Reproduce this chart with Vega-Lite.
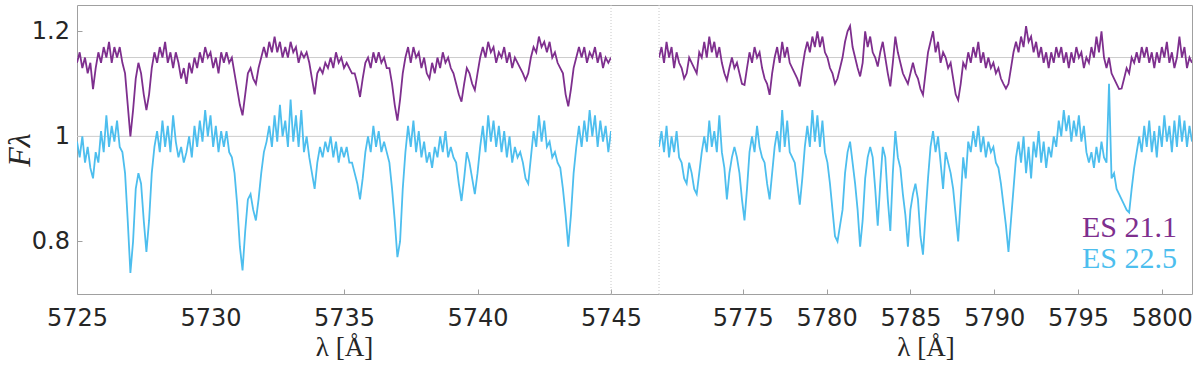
{
  "$schema": "https://vega.github.io/schema/vega-lite/v6.json",
  "background": "white",
  "padding": {"left": 3, "top": 4, "right": 5, "bottom": 2},
  "spacing": 0,
  "bounds": "flush",
  "config": {
    "view": {"stroke": null},
    "axis": {
      "domainColor": "#a0a0a0",
      "tickColor": "#a0a0a0",
      "labelColor": "#262626",
      "labelFont": "DejaVu Sans",
      "labelFontSize": 24,
      "labelFlush": false,
      "titleFont": "Liberation Serif",
      "titleFontSize": 27,
      "titleFontWeight": "normal",
      "titleColor": "#262626",
      "grid": false,
      "tickSize": -5,
      "domainWidth": 1
    }
  },
  "datasets": {
    "L": [
      {"w":5725.0,"a":1.14,"b":0.99},{"w":5725.1,"a":1.16,"b":0.96},{"w":5725.2,"a":1.13,"b":1.00},{"w":5725.3,"a":1.15,"b":0.95},{"w":5725.4,"a":1.12,"b":0.98},
      {"w":5725.5,"a":1.14,"b":0.94},{"w":5725.6,"a":1.09,"b":0.92},{"w":5725.7,"a":1.13,"b":0.97},{"w":5725.8,"a":1.16,"b":0.95},{"w":5725.9,"a":1.14,"b":1.01},
      {"w":5726.0,"a":1.17,"b":0.97},{"w":5726.1,"a":1.15,"b":1.04},{"w":5726.2,"a":1.18,"b":0.98},{"w":5726.3,"a":1.14,"b":1.02},{"w":5726.4,"a":1.17,"b":0.99},
      {"w":5726.5,"a":1.15,"b":1.03},{"w":5726.6,"a":1.17,"b":0.98},{"w":5726.7,"a":1.14,"b":0.97},{"w":5726.8,"a":1.12,"b":0.93},{"w":5726.9,"a":1.06,"b":0.84},
      {"w":5727.0,"a":1.00,"b":0.74},{"w":5727.1,"a":1.05,"b":0.80},{"w":5727.2,"a":1.11,"b":0.90},{"w":5727.3,"a":1.14,"b":0.93},{"w":5727.4,"a":1.12,"b":0.91},
      {"w":5727.5,"a":1.08,"b":0.84},{"w":5727.6,"a":1.05,"b":0.78},{"w":5727.7,"a":1.08,"b":0.84},{"w":5727.8,"a":1.13,"b":0.93},{"w":5727.9,"a":1.16,"b":0.98},
      {"w":5728.0,"a":1.14,"b":1.01},{"w":5728.1,"a":1.17,"b":0.97},{"w":5728.2,"a":1.15,"b":1.03},{"w":5728.3,"a":1.18,"b":0.98},{"w":5728.4,"a":1.14,"b":1.02},
      {"w":5728.5,"a":1.16,"b":0.97},{"w":5728.6,"a":1.13,"b":1.04},{"w":5728.7,"a":1.16,"b":0.99},{"w":5728.8,"a":1.14,"b":0.96},{"w":5728.9,"a":1.11,"b":0.98},
      {"w":5729.0,"a":1.13,"b":0.95},{"w":5729.1,"a":1.10,"b":0.97},{"w":5729.2,"a":1.14,"b":1.00},{"w":5729.3,"a":1.12,"b":0.96},{"w":5729.4,"a":1.15,"b":1.02},
      {"w":5729.5,"a":1.13,"b":0.98},{"w":5729.6,"a":1.16,"b":1.03},{"w":5729.7,"a":1.14,"b":0.99},{"w":5729.8,"a":1.17,"b":1.05},{"w":5729.9,"a":1.15,"b":1.00},
      {"w":5730.0,"a":1.16,"b":1.04},{"w":5730.1,"a":1.13,"b":0.98},{"w":5730.2,"a":1.15,"b":1.02},{"w":5730.3,"a":1.12,"b":0.97},{"w":5730.4,"a":1.16,"b":1.01},
      {"w":5730.5,"a":1.14,"b":0.98},{"w":5730.6,"a":1.16,"b":1.01},{"w":5730.7,"a":1.14,"b":0.97},{"w":5730.8,"a":1.15,"b":0.96},{"w":5730.9,"a":1.12,"b":0.93},
      {"w":5731.0,"a":1.09,"b":0.87},{"w":5731.1,"a":1.06,"b":0.79},{"w":5731.2,"a":1.04,"b":0.745},{"w":5731.3,"a":1.08,"b":0.82},{"w":5731.4,"a":1.12,"b":0.88},
      {"w":5731.5,"a":1.13,"b":0.89},{"w":5731.6,"a":1.11,"b":0.86},{"w":5731.7,"a":1.10,"b":0.84},{"w":5731.8,"a":1.13,"b":0.88},{"w":5731.9,"a":1.15,"b":0.93},
      {"w":5732.0,"a":1.17,"b":0.97},{"w":5732.1,"a":1.15,"b":0.99},{"w":5732.2,"a":1.18,"b":1.02},{"w":5732.3,"a":1.16,"b":0.98},{"w":5732.4,"a":1.19,"b":1.04},
      {"w":5732.5,"a":1.16,"b":0.99},{"w":5732.6,"a":1.18,"b":1.06},{"w":5732.7,"a":1.15,"b":1.00},{"w":5732.8,"a":1.17,"b":1.03},{"w":5732.9,"a":1.15,"b":0.98},
      {"w":5733.0,"a":1.18,"b":1.07},{"w":5733.1,"a":1.16,"b":0.99},{"w":5733.2,"a":1.17,"b":1.04},{"w":5733.3,"a":1.14,"b":0.98},{"w":5733.4,"a":1.16,"b":1.05},
      {"w":5733.5,"a":1.15,"b":0.97},{"w":5733.6,"a":1.16,"b":1.00},{"w":5733.7,"a":1.14,"b":0.96},{"w":5733.8,"a":1.11,"b":0.93},{"w":5733.9,"a":1.08,"b":0.90},
      {"w":5734.0,"a":1.12,"b":0.95},{"w":5734.1,"a":1.13,"b":0.98},{"w":5734.2,"a":1.12,"b":0.96},{"w":5734.3,"a":1.14,"b":0.99},{"w":5734.4,"a":1.13,"b":0.97},
      {"w":5734.5,"a":1.15,"b":1.00},{"w":5734.6,"a":1.13,"b":0.96},{"w":5734.7,"a":1.16,"b":0.99},{"w":5734.8,"a":1.14,"b":0.95},{"w":5734.9,"a":1.15,"b":0.98},
      {"w":5735.0,"a":1.13,"b":0.96},{"w":5735.1,"a":1.14,"b":0.98},{"w":5735.2,"a":1.13,"b":0.95},{"w":5735.3,"a":1.12,"b":0.95},{"w":5735.4,"a":1.12,"b":0.93},
      {"w":5735.5,"a":1.10,"b":0.91},{"w":5735.6,"a":1.075,"b":0.88},{"w":5735.7,"a":1.11,"b":0.92},{"w":5735.8,"a":1.14,"b":0.97},{"w":5735.9,"a":1.15,"b":1.00},
      {"w":5736.0,"a":1.13,"b":0.97},{"w":5736.1,"a":1.16,"b":1.02},{"w":5736.2,"a":1.14,"b":0.98},{"w":5736.3,"a":1.16,"b":1.01},{"w":5736.4,"a":1.14,"b":0.97},
      {"w":5736.5,"a":1.15,"b":0.99},{"w":5736.6,"a":1.13,"b":0.97},{"w":5736.7,"a":1.13,"b":0.95},{"w":5736.8,"a":1.10,"b":0.90},{"w":5736.9,"a":1.06,"b":0.84},
      {"w":5737.0,"a":1.03,"b":0.77},{"w":5737.1,"a":1.07,"b":0.80},{"w":5737.2,"a":1.12,"b":0.90},{"w":5737.3,"a":1.15,"b":0.97},{"w":5737.4,"a":1.17,"b":1.02},
      {"w":5737.5,"a":1.14,"b":0.98},{"w":5737.6,"a":1.17,"b":1.03},{"w":5737.7,"a":1.15,"b":0.97},{"w":5737.8,"a":1.16,"b":1.01},{"w":5737.9,"a":1.13,"b":0.96},
      {"w":5738.0,"a":1.15,"b":0.99},{"w":5738.1,"a":1.12,"b":0.95},{"w":5738.2,"a":1.11,"b":0.97},{"w":5738.3,"a":1.14,"b":0.94},{"w":5738.4,"a":1.12,"b":0.98},
      {"w":5738.5,"a":1.15,"b":0.96},{"w":5738.6,"a":1.13,"b":1.00},{"w":5738.7,"a":1.16,"b":0.97},{"w":5738.8,"a":1.14,"b":1.01},{"w":5738.9,"a":1.15,"b":0.96},
      {"w":5739.0,"a":1.13,"b":0.98},{"w":5739.1,"a":1.12,"b":0.96},{"w":5739.2,"a":1.10,"b":0.95},{"w":5739.3,"a":1.08,"b":0.91},{"w":5739.4,"a":1.066,"b":0.877},
      {"w":5739.5,"a":1.10,"b":0.92},{"w":5739.6,"a":1.13,"b":0.97},{"w":5739.7,"a":1.12,"b":0.95},{"w":5739.8,"a":1.10,"b":0.92},{"w":5739.9,"a":1.088,"b":0.89},
      {"w":5740.0,"a":1.12,"b":0.93},{"w":5740.1,"a":1.15,"b":0.98},{"w":5740.2,"a":1.17,"b":1.02},{"w":5740.3,"a":1.15,"b":0.97},{"w":5740.4,"a":1.18,"b":1.04},
      {"w":5740.5,"a":1.16,"b":0.99},{"w":5740.6,"a":1.17,"b":1.03},{"w":5740.7,"a":1.14,"b":0.98},{"w":5740.8,"a":1.16,"b":1.02},{"w":5740.9,"a":1.15,"b":0.97},
      {"w":5741.0,"a":1.17,"b":1.01},{"w":5741.1,"a":1.14,"b":0.96},{"w":5741.2,"a":1.16,"b":1.00},{"w":5741.3,"a":1.13,"b":0.95},{"w":5741.4,"a":1.15,"b":0.98},
      {"w":5741.5,"a":1.14,"b":0.96},{"w":5741.6,"a":1.13,"b":0.97},{"w":5741.7,"a":1.12,"b":0.95},{"w":5741.8,"a":1.107,"b":0.92},{"w":5741.9,"a":1.12,"b":0.91},
      {"w":5742.0,"a":1.15,"b":0.96},{"w":5742.1,"a":1.17,"b":1.01},{"w":5742.2,"a":1.16,"b":0.98},{"w":5742.3,"a":1.19,"b":1.04},{"w":5742.4,"a":1.17,"b":0.99},
      {"w":5742.5,"a":1.18,"b":1.03},{"w":5742.6,"a":1.16,"b":0.98},{"w":5742.7,"a":1.18,"b":0.99},{"w":5742.8,"a":1.15,"b":0.96},{"w":5742.9,"a":1.16,"b":0.97},
      {"w":5743.0,"a":1.14,"b":0.95},{"w":5743.1,"a":1.13,"b":0.94},{"w":5743.2,"a":1.12,"b":0.90},{"w":5743.3,"a":1.08,"b":0.85},{"w":5743.4,"a":1.057,"b":0.79},
      {"w":5743.5,"a":1.09,"b":0.85},{"w":5743.6,"a":1.13,"b":0.93},{"w":5743.7,"a":1.15,"b":0.98},{"w":5743.8,"a":1.17,"b":1.02},{"w":5743.9,"a":1.15,"b":0.98},
      {"w":5744.0,"a":1.17,"b":1.03},{"w":5744.1,"a":1.14,"b":0.99},{"w":5744.2,"a":1.16,"b":1.05},{"w":5744.3,"a":1.15,"b":1.00},{"w":5744.4,"a":1.17,"b":1.04},
      {"w":5744.5,"a":1.14,"b":0.98},{"w":5744.6,"a":1.16,"b":1.03},{"w":5744.7,"a":1.13,"b":0.99},{"w":5744.8,"a":1.15,"b":1.02},{"w":5744.9,"a":1.14,"b":0.97},
      {"w":5745.0,"a":1.15,"b":1.01}
    ],
    "R": [
      {"w":5770.00,"a":1.15,"b":0.98},{"w":5770.15,"a":1.17,"b":1.01},{"w":5770.30,"a":1.14,"b":0.97},{"w":5770.45,"a":1.18,"b":1.02},{"w":5770.60,"a":1.15,"b":0.96},
      {"w":5770.75,"a":1.17,"b":1.00},{"w":5770.90,"a":1.13,"b":0.97},{"w":5771.05,"a":1.16,"b":1.01},{"w":5771.20,"a":1.14,"b":0.96},{"w":5771.35,"a":1.13,"b":0.95},
      {"w":5771.50,"a":1.11,"b":0.92},{"w":5771.65,"a":1.12,"b":0.91},{"w":5771.80,"a":1.15,"b":0.95},{"w":5771.95,"a":1.14,"b":0.93},{"w":5772.10,"a":1.13,"b":0.90},
      {"w":5772.25,"a":1.12,"b":0.89},{"w":5772.40,"a":1.16,"b":0.93},{"w":5772.55,"a":1.15,"b":0.97},{"w":5772.70,"a":1.18,"b":1.00},{"w":5772.85,"a":1.15,"b":0.97},
      {"w":5773.00,"a":1.19,"b":1.03},{"w":5773.15,"a":1.16,"b":0.98},{"w":5773.30,"a":1.18,"b":1.01},{"w":5773.45,"a":1.15,"b":0.97},{"w":5773.60,"a":1.17,"b":1.04},
      {"w":5773.75,"a":1.14,"b":0.97},{"w":5773.90,"a":1.12,"b":0.94},{"w":5774.05,"a":1.107,"b":0.88},{"w":5774.20,"a":1.13,"b":0.93},{"w":5774.35,"a":1.15,"b":0.96},
      {"w":5774.50,"a":1.13,"b":0.98},{"w":5774.65,"a":1.14,"b":0.96},{"w":5774.80,"a":1.12,"b":0.93},{"w":5774.95,"a":1.10,"b":0.88},{"w":5775.10,"a":1.098,"b":0.84},
      {"w":5775.25,"a":1.13,"b":0.90},{"w":5775.40,"a":1.16,"b":0.97},{"w":5775.55,"a":1.14,"b":1.00},{"w":5775.70,"a":1.17,"b":0.97},{"w":5775.85,"a":1.15,"b":1.02},
      {"w":5776.00,"a":1.16,"b":0.98},{"w":5776.15,"a":1.13,"b":0.96},{"w":5776.30,"a":1.11,"b":0.95},{"w":5776.45,"a":1.10,"b":0.91},{"w":5776.60,"a":1.079,"b":0.88},
      {"w":5776.75,"a":1.12,"b":0.93},{"w":5776.90,"a":1.15,"b":0.98},{"w":5777.05,"a":1.17,"b":1.01},{"w":5777.20,"a":1.14,"b":0.97},{"w":5777.35,"a":1.18,"b":1.05},
      {"w":5777.50,"a":1.15,"b":0.98},{"w":5777.65,"a":1.17,"b":1.03},{"w":5777.80,"a":1.14,"b":0.97},{"w":5777.95,"a":1.13,"b":0.96},{"w":5778.10,"a":1.12,"b":0.95},
      {"w":5778.25,"a":1.11,"b":0.91},{"w":5778.40,"a":1.095,"b":0.87},{"w":5778.55,"a":1.13,"b":0.92},{"w":5778.70,"a":1.16,"b":0.98},{"w":5778.85,"a":1.18,"b":1.02},
      {"w":5779.00,"a":1.16,"b":0.98},{"w":5779.15,"a":1.19,"b":1.05},{"w":5779.30,"a":1.17,"b":0.99},{"w":5779.45,"a":1.20,"b":1.04},{"w":5779.60,"a":1.17,"b":0.98},
      {"w":5779.75,"a":1.19,"b":1.03},{"w":5779.90,"a":1.16,"b":0.97},{"w":5780.05,"a":1.15,"b":0.95},{"w":5780.20,"a":1.13,"b":0.91},{"w":5780.35,"a":1.12,"b":0.86},
      {"w":5780.50,"a":1.10,"b":0.81},{"w":5780.65,"a":1.11,"b":0.80},{"w":5780.80,"a":1.13,"b":0.83},{"w":5780.95,"a":1.15,"b":0.86},{"w":5781.10,"a":1.18,"b":0.93},
      {"w":5781.25,"a":1.20,"b":0.97},{"w":5781.40,"a":1.21,"b":0.99},{"w":5781.55,"a":1.17,"b":0.95},{"w":5781.70,"a":1.15,"b":0.91},{"w":5781.85,"a":1.13,"b":0.86},
      {"w":5782.00,"a":1.114,"b":0.79},{"w":5782.15,"a":1.14,"b":0.84},{"w":5782.30,"a":1.20,"b":0.92},{"w":5782.45,"a":1.17,"b":0.96},{"w":5782.60,"a":1.19,"b":0.98},
      {"w":5782.75,"a":1.16,"b":0.96},{"w":5782.90,"a":1.15,"b":0.90},{"w":5783.05,"a":1.133,"b":0.83},{"w":5783.20,"a":1.16,"b":0.91},{"w":5783.35,"a":1.18,"b":0.98},
      {"w":5783.50,"a":1.15,"b":0.96},{"w":5783.65,"a":1.12,"b":0.88},{"w":5783.80,"a":1.095,"b":0.82},{"w":5783.95,"a":1.14,"b":0.93},{"w":5784.10,"a":1.19,"b":1.01},
      {"w":5784.25,"a":1.16,"b":0.96},{"w":5784.40,"a":1.14,"b":0.94},{"w":5784.55,"a":1.12,"b":0.89},{"w":5784.70,"a":1.11,"b":0.85},{"w":5784.85,"a":1.10,"b":0.79},
      {"w":5785.00,"a":1.12,"b":0.86},{"w":5785.15,"a":1.14,"b":0.89},{"w":5785.30,"a":1.12,"b":0.91},{"w":5785.45,"a":1.11,"b":0.88},{"w":5785.60,"a":1.09,"b":0.81},
      {"w":5785.75,"a":1.079,"b":0.775},{"w":5785.90,"a":1.12,"b":0.85},{"w":5786.05,"a":1.16,"b":0.92},{"w":5786.20,"a":1.18,"b":0.98},{"w":5786.35,"a":1.20,"b":1.01},
      {"w":5786.50,"a":1.16,"b":0.97},{"w":5786.65,"a":1.18,"b":1.00},{"w":5786.80,"a":1.14,"b":0.95},{"w":5786.95,"a":1.16,"b":0.90},{"w":5787.10,"a":1.15,"b":0.97},
      {"w":5787.25,"a":1.13,"b":0.95},{"w":5787.40,"a":1.14,"b":0.93},{"w":5787.55,"a":1.11,"b":0.90},{"w":5787.70,"a":1.08,"b":0.85},{"w":5787.85,"a":1.069,"b":0.80},
      {"w":5788.00,"a":1.10,"b":0.88},{"w":5788.15,"a":1.14,"b":0.96},{"w":5788.30,"a":1.13,"b":0.92},{"w":5788.45,"a":1.16,"b":0.99},{"w":5788.60,"a":1.14,"b":0.97},
      {"w":5788.75,"a":1.17,"b":1.01},{"w":5788.90,"a":1.15,"b":0.98},{"w":5789.05,"a":1.18,"b":1.02},{"w":5789.20,"a":1.14,"b":0.97},{"w":5789.35,"a":1.16,"b":1.00},
      {"w":5789.50,"a":1.13,"b":0.96},{"w":5789.65,"a":1.15,"b":0.99},{"w":5789.80,"a":1.13,"b":0.97},{"w":5789.95,"a":1.14,"b":0.98},{"w":5790.10,"a":1.12,"b":0.95},
      {"w":5790.25,"a":1.13,"b":0.94},{"w":5790.40,"a":1.11,"b":0.91},{"w":5790.55,"a":1.10,"b":0.87},{"w":5790.70,"a":1.091,"b":0.83},{"w":5790.85,"a":1.10,"b":0.78},
      {"w":5791.00,"a":1.13,"b":0.84},{"w":5791.15,"a":1.16,"b":0.90},{"w":5791.30,"a":1.18,"b":0.96},{"w":5791.45,"a":1.16,"b":0.99},{"w":5791.60,"a":1.19,"b":0.95},
      {"w":5791.75,"a":1.17,"b":1.00},{"w":5791.90,"a":1.21,"b":0.93},{"w":5792.05,"a":1.18,"b":0.98},{"w":5792.20,"a":1.19,"b":0.92},{"w":5792.35,"a":1.16,"b":0.99},
      {"w":5792.50,"a":1.18,"b":0.96},{"w":5792.65,"a":1.15,"b":1.01},{"w":5792.80,"a":1.17,"b":0.95},{"w":5792.95,"a":1.14,"b":0.99},{"w":5793.10,"a":1.16,"b":0.94},
      {"w":5793.25,"a":1.13,"b":0.98},{"w":5793.40,"a":1.16,"b":0.96},{"w":5793.55,"a":1.14,"b":1.00},{"w":5793.70,"a":1.17,"b":0.98},{"w":5793.85,"a":1.15,"b":1.03},
      {"w":5794.00,"a":1.17,"b":1.00},{"w":5794.15,"a":1.14,"b":1.05},{"w":5794.30,"a":1.16,"b":1.01},{"w":5794.45,"a":1.13,"b":1.04},{"w":5794.60,"a":1.16,"b":0.99},
      {"w":5794.75,"a":1.14,"b":1.03},{"w":5794.90,"a":1.17,"b":1.00},{"w":5795.05,"a":1.15,"b":1.04},{"w":5795.20,"a":1.16,"b":0.99},{"w":5795.35,"a":1.13,"b":1.02},
      {"w":5795.50,"a":1.15,"b":0.97},{"w":5795.65,"a":1.14,"b":0.95},{"w":5795.80,"a":1.17,"b":0.97},{"w":5795.95,"a":1.15,"b":0.94},{"w":5796.10,"a":1.19,"b":0.98},
      {"w":5796.25,"a":1.16,"b":0.95},{"w":5796.40,"a":1.20,"b":0.99},{"w":5796.55,"a":1.15,"b":0.96},{"w":5796.70,"a":1.13,"b":0.95},{"w":5796.85,"a":1.15,"b":1.10},
      {"w":5797.00,"a":1.12,"b":0.92},{"w":5797.15,"a":1.11,"b":0.93},{"w":5797.30,"a":1.10,"b":0.90},{"w":5797.45,"a":1.09,"b":0.89},{"w":5797.60,"a":1.091,"b":0.88},
      {"w":5797.75,"a":1.11,"b":0.87},{"w":5797.90,"a":1.13,"b":0.86},{"w":5798.05,"a":1.12,"b":0.855},{"w":5798.20,"a":1.15,"b":0.90},{"w":5798.35,"a":1.14,"b":0.94},
      {"w":5798.50,"a":1.16,"b":0.97},{"w":5798.65,"a":1.14,"b":1.00},{"w":5798.80,"a":1.17,"b":0.97},{"w":5798.95,"a":1.15,"b":1.02},{"w":5799.10,"a":1.17,"b":0.98},
      {"w":5799.25,"a":1.14,"b":1.03},{"w":5799.40,"a":1.16,"b":0.97},{"w":5799.55,"a":1.13,"b":1.01},{"w":5799.70,"a":1.16,"b":0.96},{"w":5799.85,"a":1.14,"b":1.02},
      {"w":5800.00,"a":1.17,"b":0.98},{"w":5800.15,"a":1.15,"b":1.04},{"w":5800.30,"a":1.18,"b":0.99},{"w":5800.45,"a":1.14,"b":1.02},{"w":5800.60,"a":1.16,"b":0.97},
      {"w":5800.75,"a":1.13,"b":1.03},{"w":5800.90,"a":1.15,"b":0.98},{"w":5801.05,"a":1.19,"b":1.04},{"w":5801.20,"a":1.15,"b":0.99},{"w":5801.35,"a":1.17,"b":1.03},
      {"w":5801.50,"a":1.13,"b":0.98},{"w":5801.65,"a":1.15,"b":1.02},{"w":5801.80,"a":1.14,"b":0.99}
    ]
  },
  "hconcat": [
    {
      "width": 534,
      "height": 289,
      "layer": [
        {
          "data": {"values": [{"y": 1}, {"y": 1.15}]},
          "mark": {"type": "rule", "color": "#cccccc", "strokeWidth": 1},
          "encoding": {"y": {"field": "y", "type": "quantitative", "scale": {"domain": [0.7, 1.25], "nice": false}}}
        },
        {
          "data": {"values": [{"x": 5745}]},
          "mark": {"type": "rule", "color": "#c8c8c8", "strokeWidth": 1, "strokeDash": [1, 2]},
          "encoding": {
            "x": {"field": "x", "type": "quantitative", "scale": {"domain": [5725, 5745], "nice": false},
              "axis": {"orient": "top", "labels": false, "ticks": false, "title": null, "domain": true}}
          }
        },
        {
          "data": {"name": "L"},
          "transform": [{"fold": ["a", "b"], "as": ["s", "f"]}],
          "mark": {"type": "line", "strokeWidth": 1.8, "clip": true},
          "encoding": {
            "x": {"field": "w", "type": "quantitative", "scale": {"domain": [5725, 5745], "nice": false},
              "axis": {"orient": "bottom", "values": [5725, 5730, 5735, 5740, 5745], "format": "d", "labelPadding": 17, "title": "λ [Å]", "titlePadding": 4}},
            "y": {"field": "f", "type": "quantitative", "scale": {"domain": [0.7, 1.25], "nice": false},
              "axis": {"orient": "left", "values": [0.8, 1, 1.2], "format": "~g", "labelPadding": 12.5, "title": "Fλ", "titleFontStyle": "italic", "titleFontSize": 32, "titlePadding": -5}},
            "color": {"field": "s", "type": "nominal", "scale": {"domain": ["a", "b"], "range": ["#7E2F8E", "#4DBEEE"]}, "legend": null}
          }
        }
      ],
      "resolve": {"axis": {"x": "independent"}}
    },
    {
      "width": 48,
      "height": 289,
      "data": {"values": [{"k": 0}]},
      "layer": [
        {
          "mark": {"type": "rule", "opacity": 0},
          "encoding": {"x": {"datum": 0.5, "type": "quantitative", "scale": {"domain": [0, 1]},
            "axis": {"orient": "bottom", "labels": false, "ticks": false, "title": null, "domain": true}}}
        },
        {
          "mark": {"type": "rule", "opacity": 0},
          "encoding": {"x": {"datum": 0.5, "type": "quantitative", "scale": {"domain": [0, 1]},
            "axis": {"orient": "top", "labels": false, "ticks": false, "title": null, "domain": true}}}
        }
      ],
      "resolve": {"axis": {"x": "independent"}}
    },
    {
      "width": 533,
      "height": 289,
      "layer": [
        {
          "data": {"values": [{"y": 1}, {"y": 1.15}]},
          "mark": {"type": "rule", "color": "#cccccc", "strokeWidth": 1},
          "encoding": {"y": {"field": "y", "type": "quantitative", "scale": {"domain": [0.7, 1.25], "nice": false}}}
        },
        {
          "data": {"values": [{"x": 5770}]},
          "mark": {"type": "rule", "color": "#c8c8c8", "strokeWidth": 1, "strokeDash": [1, 2]},
          "encoding": {
            "x": {"field": "x", "type": "quantitative", "scale": {"domain": [5770, 5801.8], "nice": false},
              "axis": {"orient": "top", "labels": false, "ticks": false, "title": null, "domain": true}}
          }
        },
        {
          "data": {"name": "R"},
          "transform": [{"fold": ["a", "b"], "as": ["s", "f"]}],
          "mark": {"type": "line", "strokeWidth": 1.8, "clip": true},
          "encoding": {
            "x": {"field": "w", "type": "quantitative", "scale": {"domain": [5770, 5801.8], "nice": false},
              "axis": {"orient": "bottom", "values": [5775, 5780, 5785, 5790, 5795, 5800], "format": "d", "labelPadding": 17, "title": "λ [Å]", "titlePadding": 4}},
            "y": {"field": "f", "type": "quantitative", "scale": {"domain": [0.7, 1.25], "nice": false},
              "axis": {"orient": "right", "labels": false, "ticks": false, "title": null, "domain": true}},
            "color": {"field": "s", "type": "nominal", "scale": {"domain": ["a", "b"], "range": ["#7E2F8E", "#4DBEEE"]}, "legend": null}
          }
        },
        {
          "data": {"values": [{"x": 5800.9, "y": 0.809, "t": "ES 21.1", "s": "a"}, {"x": 5800.9, "y": 0.75, "t": "ES 22.5", "s": "b"}]},
          "mark": {"type": "text", "align": "right", "baseline": "alphabetic", "font": "Liberation Serif", "fontSize": 30},
          "encoding": {
            "x": {"field": "x", "type": "quantitative", "scale": {"domain": [5770, 5801.8], "nice": false}, "axis": null},
            "y": {"field": "y", "type": "quantitative", "scale": {"domain": [0.7, 1.25], "nice": false}},
            "text": {"field": "t"},
            "color": {"field": "s", "type": "nominal", "scale": {"domain": ["a", "b"], "range": ["#7E2F8E", "#4DBEEE"]}, "legend": null}
          }
        }
      ],
      "resolve": {"axis": {"x": "independent"}}
    }
  ]
}
